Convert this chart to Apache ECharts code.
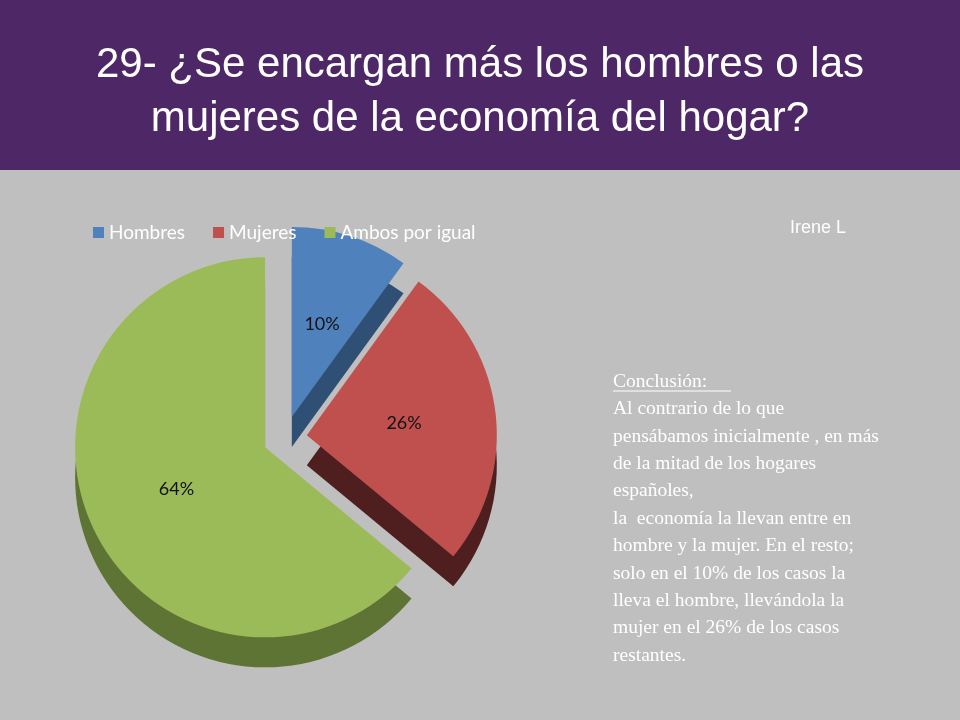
<!DOCTYPE html>
<html><head><meta charset="utf-8">
<script src="https://cdn.jsdelivr.net/npm/echarts@6/dist/echarts.min.js"></script>
<style>html,body{margin:0;padding:0;background:#BFBFBF}#c{width:960px;height:720px}</style>
</head><body><div id="c"></div>
<script>
const categories = ['Hombres', 'Mujeres', 'Ambos por igual'];
const values = [10, 26, 64];
const colors = ['#4F81BD', '#C0504D', '#9BBB59'];
const sideColors = ['#2F4F75', '#4E1F1E', '#5E7434'];
const titleLines = ['29- ¿Se encargan más los hombres o las', 'mujeres de la economía del hogar?'];
const conclusionLines = ['Conclusión:', 'Al contrario de lo que', 'pensábamos inicialmente , en más', 'de la mitad de los hogares', 'españoles,', 'la  economía la llevan entre en', 'hombre y la mujer. En el resto;', 'solo en el 10% de los casos la', 'lleva el hombre, llevándola la', 'mujer en el 26% de los casos', 'restantes.'];

const chart = echarts.init(document.getElementById('c'));
const mk = (cols, sel) => categories.map((n, i) => ({name: n, value: values[i], selected: sel, itemStyle: {color: cols[i]}}));
chart.setOption({
  backgroundColor: '#BFBFBF',
  animation: false,
  graphic: [
    {type: 'rect', shape: {x: 0, y: 0, width: 960, height: 170}, style: {fill: '#4E2766'}},
    {type: 'text', x: 480, y: 38, style: {text: titleLines.join('\n'), fill: '#fff', font: '42px "Liberation Sans", Arial', align: 'center', lineHeight: 54}},
    {type: 'text', left: 790, top: 219, style: {text: 'Irene L', fill: '#fff', font: '18px "Liberation Sans", Arial'}},
    {type: 'text', left: 613, top: 368, style: {text: conclusionLines.join('\n'), fill: '#fff', font: '19.5px "Liberation Serif", "Times New Roman", serif', lineHeight: 27.4}},
    {type: 'line', shape: {x1: 613, y1: 391, x2: 731, y2: 391}, style: {stroke: '#fff', lineWidth: 1}}
  ],
  legend: {
    data: categories, left: 88, top: 218, itemWidth: 11, itemHeight: 11, itemGap: 28, icon: 'rect',
    textStyle: {color: '#fff', fontSize: 19, fontFamily: 'Lato, "Open Sans", sans-serif'}
  },
  series: [
    {type: 'pie', z: 3, center: [285, 438], radius: [0, 190], startAngle: 90,
     selectedMode: 'multiple', selectedOffset: 22,
     label: {show: true, position: 'inside', formatter: '{d}%', color: '#111', fontSize: 18, fontFamily: 'Lato, "Open Sans", sans-serif'},
     data: mk(colors, true)},
    {type: 'pie', z: 2, center: [285, 468], radius: [0, 190], startAngle: 90, silent: true,
     selectedMode: 'multiple', selectedOffset: 22, label: {show: false}, labelLine: {show: false},
     data: mk(sideColors, true), legendHoverLink: false}
  ]
});
</script></body></html>
